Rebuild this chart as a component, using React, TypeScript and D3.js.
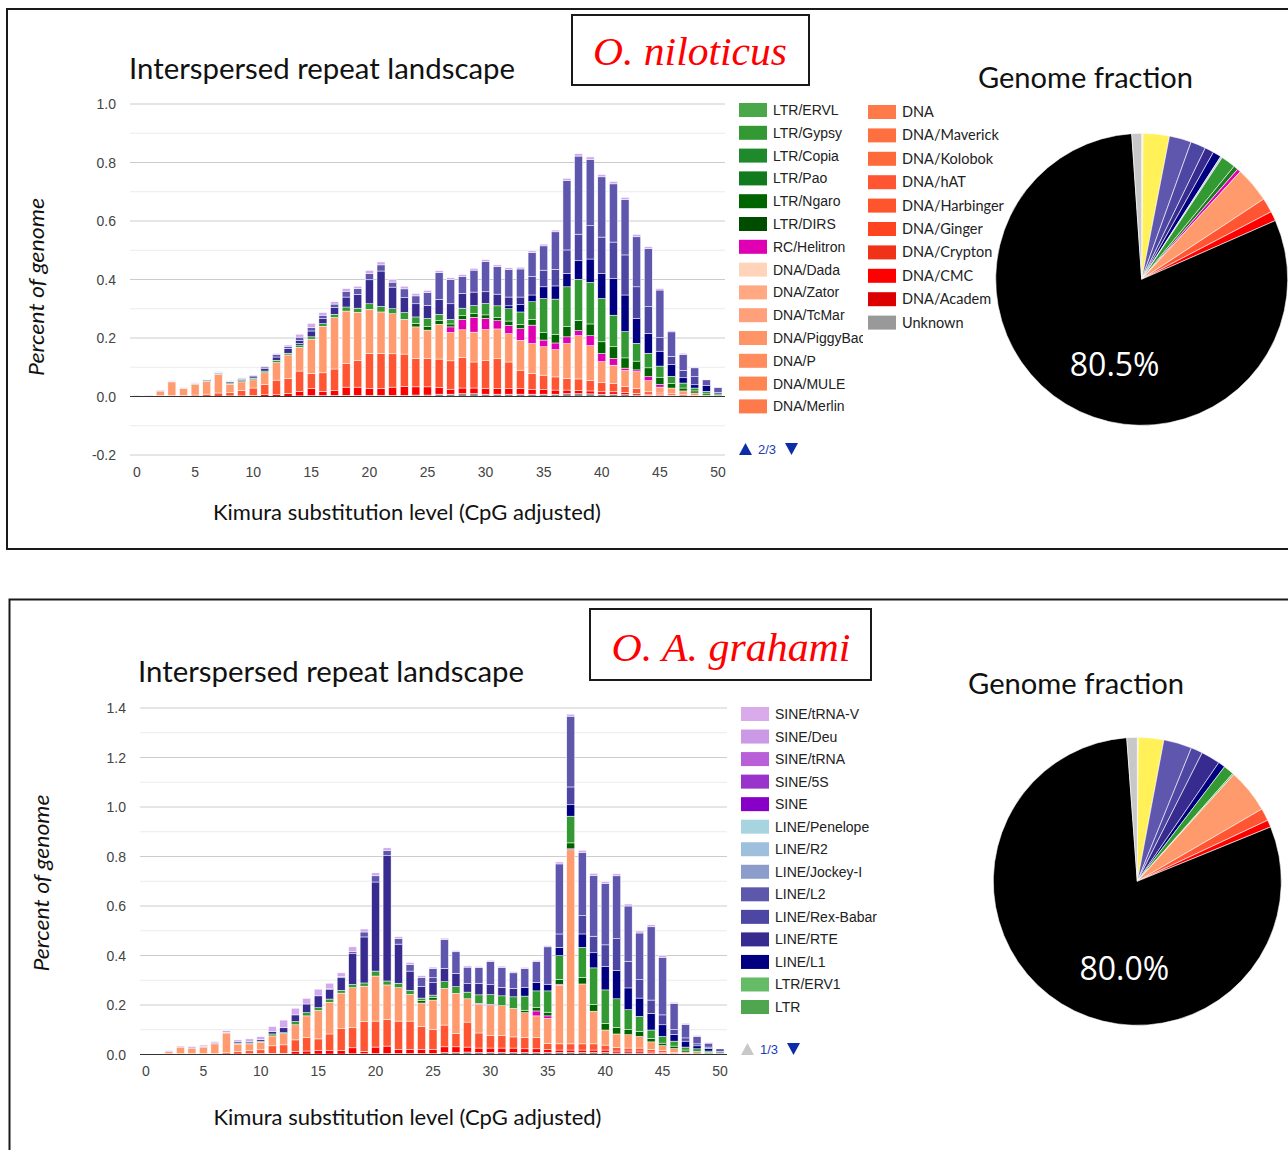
import React from 'react';
import * as d3 from 'd3';

// ---------- categories ----------
const KIMURA = [0,1,2,3,4,5,6,7,8,9,10,11,12,13,14,15,16,17,18,19,20,21,22,23,24,25,26,27,28,29,30,31,32,33,34,35,36,37,38,39,40,41,42,43,44,45,46,47,48,49,50];
const STACK_KEYS = ['Unknown','DNA/CMC','DNA/hAT','DNA/TcMar','RC/Helitron','LTR/Ngaro','LTR/Gypsy','LINE/L1','LINE/RTE','LINE/Rex-Babar','LINE/L2','SINE/tRNA'];
const X_TICKS = [0,5,10,15,20,25,30,35,40,45,50];
const NIL_Y_TICKS = [-0.2,0,0.2,0.4,0.6,0.8,1.0];
const GRA_Y_TICKS = [0,0.2,0.4,0.6,0.8,1.0,1.2,1.4];

// ---------- O. niloticus landscape (percent of genome) ----------
const NIL_UNKNOWN = [0,0,0,0,0,0,0,0,0,0,0,0,0,0,0.002,0.003,0.003,0.004,0.004,0.004,0.004,0.004,0.004,0.004,0.005,0.005,0.008,0.008,0.01,0.01,0.008,0.008,0.008,0.008,0.008,0.008,0.008,0.01,0.01,0.009,0.008,0.008,0.006,0.005,0.004,0.003,0.002,0.002,0.001,0,0];
const NIL_CMC = [0,0,0,0,0,0,0,0,0.002,0.002,0.004,0.006,0.006,0.011,0.015,0.025,0.015,0.016,0.028,0.028,0.024,0.024,0.028,0.03,0.028,0.028,0.023,0.017,0.019,0.019,0.019,0.019,0.019,0.019,0.016,0.016,0.014,0.012,0.01,0.01,0.008,0.008,0.008,0.006,0.004,0.003,0.002,0,0,0,0];
const NIL_HAT = [0,0,0.003,0.004,0.003,0.005,0.008,0.012,0.012,0.018,0.025,0.035,0.05,0.051,0.07,0.051,0.063,0.074,0.08,0.091,0.119,0.119,0.114,0.111,0.097,0.097,0.097,0.097,0.105,0.089,0.097,0.102,0.091,0.063,0.055,0.049,0.045,0.04,0.04,0.036,0.031,0.028,0.02,0.017,0.008,0.006,0.005,0.004,0.003,0,0];
const NIL_TCMAR = [0.003,0.003,0.015,0.046,0.025,0.036,0.044,0.064,0.028,0.03,0.028,0.04,0.06,0.08,0.081,0.117,0.159,0.176,0.18,0.165,0.151,0.142,0.137,0.119,0.108,0.097,0.119,0.097,0.094,0.102,0.105,0.102,0.097,0.102,0.102,0.097,0.093,0.119,0.148,0.119,0.072,0.063,0.055,0.057,0.038,0.02,0.02,0.013,0.008,0.004,0.002];
const NIL_HELITRON = [0,0,0,0,0,0,0,0,0,0,0,0,0,0,0,0,0,0,0,0,0,0,0,0,0,0,0,0.019,0.036,0.051,0.038,0.028,0.028,0.04,0.063,0.023,0.023,0.023,0.017,0.034,0.028,0.023,0.008,0.006,0.014,0.009,0,0,0,0,0];
const NIL_NGARO = [0,0,0,0,0,0,0,0,0,0,0,0,0,0,0,0,0,0,0,0,0,0,0,0,0.012,0.012,0.012,0.01,0.012,0.012,0.012,0.012,0.015,0.015,0.02,0.025,0.03,0.035,0.035,0.04,0.04,0.04,0.035,0.03,0.03,0.025,0.015,0.01,0.007,0.005,0.003];
const NIL_GYPSY = [0,0,0,0,0,0.002,0.002,0.003,0.004,0.004,0.005,0.006,0.008,0.006,0.008,0.008,0.009,0.011,0.014,0.014,0.019,0.019,0.017,0.023,0.022,0.028,0.022,0.016,0.026,0.028,0.039,0.039,0.042,0.042,0.06,0.117,0.12,0.136,0.141,0.142,0.148,0.108,0.09,0.061,0.05,0.038,0.025,0.017,0.01,0.009,0.004];
const NIL_L1 = [0,0,0,0,0,0,0,0,0,0,0,0,0,0,0.005,0,0,0,0,0,0,0,0,0,0,0,0,0,0,0,0,0,0.01,0.025,0.023,0.04,0.045,0.046,0.063,0.08,0.085,0.125,0.125,0.085,0.068,0.051,0.04,0.018,0.011,0.019,0.005];
const NIL_RTE = [0,0,0.002,0.002,0,0.002,0.003,0.002,0.004,0.005,0.005,0.008,0.011,0.017,0.01,0.02,0.017,0.023,0.034,0.047,0.082,0.121,0.074,0.051,0.045,0.045,0.051,0.053,0.051,0.046,0.04,0.04,0.03,0.026,0,0,0,0,0,0,0,0,0,0,0,0,0,0,0,0,0];
const NIL_REX = [0,0,0,0,0,0,0,0,0,0,0,0,0,0,0,0,0,0,0,0,0,0,0,0,0,0,0,0,0,0,0,0,0,0,0.063,0.057,0.057,0.08,0.091,0.114,0.125,0.125,0.137,0.108,0.091,0.046,0.028,0.025,0.028,0,0];
const NIL_L2 = [0,0,0,0,0,0,0,0.002,0.002,0.003,0.004,0.006,0.008,0.007,0.012,0.012,0.012,0.012,0.02,0.02,0.022,0.021,0.017,0.03,0.027,0.043,0.092,0.083,0.058,0.075,0.104,0.094,0.094,0.096,0.082,0.083,0.128,0.237,0.267,0.227,0.206,0.199,0.189,0.171,0.199,0.163,0.084,0.055,0.03,0.02,0.016];
const NIL_SINE = [0,0,0.002,0.002,0.002,0.002,0.002,0.002,0.002,0.002,0.002,0.003,0.004,0.004,0.01,0.014,0.009,0.008,0.009,0.008,0.01,0.01,0.009,0.009,0.008,0.008,0.006,0.006,0.006,0.006,0.006,0.006,0.006,0.006,0.006,0.006,0.006,0.008,0.008,0.008,0.008,0.008,0.008,0.008,0.006,0.005,0.004,0.004,0.003,0.002,0.002];

// ---------- O. A. grahami landscape ----------
const GRA_UNKNOWN = [0,0,0,0,0,0,0,0,0,0,0,0.002,0.002,0.002,0.002,0.002,0.002,0.002,0.003,0.003,0.004,0.004,0.004,0.004,0.004,0.004,0.008,0.008,0.01,0.008,0.008,0.008,0.008,0.008,0.008,0.008,0.008,0.008,0.008,0.008,0.008,0.006,0.006,0.006,0.004,0.004,0.004,0.002,0.002,0.001,0];
const GRA_CMC = [0,0,0,0,0,0,0,0.002,0.002,0.003,0.004,0.003,0.003,0.01,0.012,0.014,0.014,0.014,0.024,0.01,0.026,0.03,0.016,0.016,0.016,0.016,0.023,0.023,0.02,0.018,0.018,0.018,0.018,0.015,0.015,0.012,0.01,0.01,0.01,0.01,0.01,0.008,0.008,0.008,0.006,0.004,0,0,0,0,0];
const GRA_HAT = [0,0,0.003,0.003,0.004,0.005,0.005,0.005,0.01,0.012,0.015,0.03,0.034,0.047,0.054,0.047,0.067,0.088,0.081,0.121,0.105,0.108,0.115,0.115,0.094,0.081,0.088,0.054,0.101,0.061,0.05,0.05,0.045,0.045,0.045,0.025,0.025,0.025,0.025,0.025,0.02,0.015,0.012,0.012,0.01,0.008,0.005,0.002,0,0,0];
const GRA_TCMAR = [0.003,0,0.008,0.027,0.022,0.025,0.038,0.08,0.03,0.028,0.03,0.04,0.045,0.061,0.088,0.115,0.128,0.144,0.162,0.142,0.182,0.139,0.135,0.108,0.094,0.119,0.148,0.162,0.094,0.115,0.121,0.121,0.115,0.101,0.088,0.101,0.236,0.784,0.242,0.132,0.061,0.054,0.054,0.047,0.031,0.02,0.015,0.006,0.005,0.003,0.002];
const GRA_HELITRON = [0,0,0,0,0,0,0,0,0,0,0,0,0,0,0,0,0,0,0,0,0,0,0,0,0,0,0,0,0,0.005,0.005,0,0,0,0.02,0.01,0.005,0.004,0,0,0,0,0,0,0,0,0,0,0,0,0];
const GRA_NGARO = [0,0,0,0,0,0,0,0,0,0,0,0,0,0,0,0,0,0,0,0,0,0,0,0,0.01,0.01,0,0,0,0,0,0,0,0.01,0.015,0.015,0.02,0.024,0.027,0.027,0.027,0.027,0.02,0.02,0.014,0.01,0.01,0.008,0.006,0.004,0.002];
const GRA_GYPSY = [0,0,0,0,0,0.002,0.002,0.003,0.004,0.004,0.005,0.008,0.004,0.013,0.013,0.011,0.013,0.011,0.013,0.013,0.02,0.016,0.018,0.016,0.01,0.01,0.027,0.027,0.027,0.034,0.04,0.04,0.047,0.057,0.066,0.086,0.095,0.108,0.121,0.148,0.135,0.115,0.081,0.061,0.034,0.027,0.02,0.012,0.01,0.006,0.003];
const GRA_L1 = [0,0,0,0,0,0,0,0,0,0,0,0,0,0,0,0,0,0,0,0,0,0,0,0,0,0,0,0,0,0,0,0,0,0.034,0.034,0.027,0.034,0.046,0.054,0.061,0.094,0.115,0.088,0.074,0.067,0.047,0.027,0.024,0.012,0.01,0.006];
const GRA_RTE = [0,0,0,0,0,0,0.002,0,0.005,0.006,0.006,0.01,0.02,0.027,0.035,0.048,0.04,0.051,0.124,0.186,0.36,0.506,0.158,0.078,0.047,0.05,0.054,0.054,0.034,0.047,0.04,0.034,0.034,0,0,0,0,0,0,0,0,0,0,0,0,0,0,0,0,0,0];
const GRA_REX = [0,0,0,0,0,0,0,0,0,0,0,0,0,0,0,0,0,0,0,0,0,0,0,0,0,0.02,0,0,0,0,0,0,0,0,0,0,0.054,0.072,0.074,0.067,0.088,0.128,0.108,0.074,0.054,0.04,0.02,0.013,0.008,0.006,0];
const GRA_L2 = [0,0,0,0,0,0,0,0,0,0,0,0,0,0,0,0,0.004,0.004,0.008,0.02,0.025,0.022,0.022,0.027,0.037,0.037,0.117,0.087,0.067,0.063,0.093,0.081,0.063,0.077,0.084,0.151,0.283,0.286,0.256,0.246,0.247,0.254,0.223,0.189,0.296,0.233,0.105,0.055,0.03,0.016,0.01];
const GRA_SINE = [0.002,0,0.005,0.004,0.006,0.006,0.005,0.006,0.008,0.01,0.012,0.02,0.031,0.027,0.023,0.027,0.02,0.016,0.02,0.012,0.012,0.01,0.008,0.008,0.006,0.006,0.005,0.005,0.005,0.005,0.005,0.005,0.005,0.005,0.005,0.005,0.008,0.008,0.008,0.008,0.008,0.008,0.008,0.008,0.008,0.006,0.005,0.004,0.004,0.003,0.002];

// ---------- genome fraction pies (percent) ----------
const NIL_PIE_LABELS = ['Other','Simple','LINE/L2','LINE/Rex-Babar','LINE/RTE','LINE/L1','LINE/Jockey-I','LTR/Gypsy','LTR/Ngaro','RC/Helitron','DNA/TcMar','DNA/hAT','DNA/CMC','Non-repeat','Unclassified'];
const NIL_PIE_VALUES = [0.15,2.9,2.44,1.69,1.0,0.92,0.2,1.61,0.5,0.39,3.94,1.61,1.06,80.5,1.09];
const GRA_PIE_LABELS = ['Other','Simple','LINE/L2','LINE/Rex-Babar','LINE/RTE','LINE/L1','LTR/Gypsy','LTR/ERV1','DNA/TcMar','DNA/hAT','DNA/CMC','Non-repeat','Unclassified'];
const GRA_PIE_VALUES = [0.1,2.86,3.17,1.31,2.14,0.78,1.17,0.17,4.94,1.39,0.81,80.0,1.17];

// ---------- legends ----------
const NIL_LEGEND_A = ['LTR/ERVL','LTR/Gypsy','LTR/Copia','LTR/Pao','LTR/Ngaro','LTR/DIRS','RC/Helitron','DNA/Dada','DNA/Zator','DNA/TcMar','DNA/PiggyBac','DNA/P','DNA/MULE','DNA/Merlin'];
const NIL_LEGEND_B = ['DNA','DNA/Maverick','DNA/Kolobok','DNA/hAT','DNA/Harbinger','DNA/Ginger','DNA/Crypton','DNA/CMC','DNA/Academ','Unknown'];
const GRA_LEGEND = ['SINE/tRNA-V','SINE/Deu','SINE/tRNA','SINE/5S','SINE','LINE/Penelope','LINE/R2','LINE/Jockey-I','LINE/L2','LINE/Rex-Babar','LINE/RTE','LINE/L1','LTR/ERV1','LTR'];

const COLORS: Record<string, string> = {
  'Unknown': '#8f8f8f', 'DNA/CMC': '#ff0000', 'DNA/hAT': '#ff5533', 'DNA/TcMar': '#ff9b6e',
  'RC/Helitron': '#e000b4', 'LTR/Ngaro': '#006400', 'LTR/Gypsy': '#339933', 'LINE/L1': '#000080',
  'LINE/RTE': '#372b8f', 'LINE/Rex-Babar': '#4e46a3', 'LINE/L2': '#5f57ad', 'SINE/tRNA': '#d2a8ee',
  'LTR/ERVL': '#4aa84a', 'LTR/Copia': '#1f8a2c', 'LTR/Pao': '#117a1c', 'LTR/DIRS': '#004d00',
  'DNA/Dada': '#ffd4bb', 'DNA/Zator': '#ffa882', 'DNA/PiggyBac': '#ff9466', 'DNA/P': '#ff8c5c',
  'DNA/MULE': '#ff8552', 'DNA/Merlin': '#ff7a4a', 'DNA': '#ff7a48', 'DNA/Maverick': '#ff7040',
  'DNA/Kolobok': '#ff6a3a', 'DNA/Harbinger': '#ff552c', 'DNA/Ginger': '#ff4422', 'DNA/Crypton': '#f03218',
  'DNA/Academ': '#dd0000', 'SINE/tRNA-V': '#d9abea', 'SINE/Deu': '#cc99e6', 'SINE/5S': '#9933cc',
  'SINE': '#8800c8', 'LINE/Penelope': '#a8d4e0', 'LINE/R2': '#9ec0dd', 'LINE/Jockey-I': '#8c9dcc',
  'LTR/ERV1': '#66bb66', 'LTR': '#4fa64f',
};
const LEGEND_COLORS: Record<string, string> = { ...COLORS, 'Unknown': '#999999', 'LINE/L2': '#5e58ad', 'SINE/tRNA': '#b960d8', 'DNA/TcMar': '#ffa07a' };
const PIE_COLORS: Record<string, string> = {
  'Other': '#e4e4e4', 'Simple': '#fff157', 'LINE/L2': '#5f57ad', 'LINE/Rex-Babar': '#4e46a3', 'LINE/RTE': '#372b8f',
  'LINE/L1': '#000080', 'LINE/Jockey-I': '#c8c8d8', 'LTR/Gypsy': '#339933', 'LTR/Ngaro': '#1e7a1e', 'LTR/ERV1': '#66bb66',
  'RC/Helitron': '#e000b4', 'DNA/TcMar': '#ff9a6c', 'DNA/hAT': '#ff5533', 'DNA/CMC': '#ff0000',
  'Non-repeat': '#000000', 'Unclassified': '#c8c8c8',
};

const SANS = "Lato, 'Open Sans', sans-serif";
const ARIAL = "Arial, 'Liberation Sans', sans-serif";

type Landscape = Record<string, number[]>;
const NIL_DATA: Landscape = {
  'Unknown': NIL_UNKNOWN, 'DNA/CMC': NIL_CMC, 'DNA/hAT': NIL_HAT, 'DNA/TcMar': NIL_TCMAR, 'RC/Helitron': NIL_HELITRON,
  'LTR/Ngaro': NIL_NGARO, 'LTR/Gypsy': NIL_GYPSY, 'LINE/L1': NIL_L1, 'LINE/RTE': NIL_RTE, 'LINE/Rex-Babar': NIL_REX,
  'LINE/L2': NIL_L2, 'SINE/tRNA': NIL_SINE,
};
const GRA_DATA: Landscape = {
  'Unknown': GRA_UNKNOWN, 'DNA/CMC': GRA_CMC, 'DNA/hAT': GRA_HAT, 'DNA/TcMar': GRA_TCMAR, 'RC/Helitron': GRA_HELITRON,
  'LTR/Ngaro': GRA_NGARO, 'LTR/Gypsy': GRA_GYPSY, 'LINE/L1': GRA_L1, 'LINE/RTE': GRA_RTE, 'LINE/Rex-Babar': GRA_REX,
  'LINE/L2': GRA_L2, 'SINE/tRNA': GRA_SINE,
};

interface BarsProps {
  data: Landscape; x0: number; x1: number; yDomain: [number, number]; yRange: [number, number];
  gridX0: number; gridX1: number; yTicks: number[]; yLabelX: number; xLabelY: number;
}

const fmtTick = (v: number) => d3.format('.1f')(v).replace('\u2212', '-');

function Bars({ data, x0, x1, yDomain, yRange, gridX0, gridX1, yTicks, yLabelX, xLabelY }: BarsProps) {
  const x = d3.scaleLinear().domain([0, 50]).range([x0, x1]);
  const y = d3.scaleLinear().domain(yDomain).range(yRange);
  const rows = KIMURA.map((k, i) => {
    const r: Record<string, number> = { bin: k };
    STACK_KEYS.forEach((s) => { r[s] = data[s][i]; });
    return r;
  });
  const layers = d3.stack<Record<string, number>>().keys(STACK_KEYS)(rows);
  const minor: number[] = [];
  for (let v = yDomain[0]; v <= yDomain[1] + 1e-9; v += 0.1) minor.push(Math.round(v * 10) / 10);
  const bw = 8;
  return (
    <g>
      {minor.map((v) => (
        <line key={'g' + v} x1={gridX0} x2={gridX1} y1={y(v)} y2={y(v)}
          stroke={Math.abs(Math.round(v * 10)) % 2 === 0 ? '#cccccc' : '#ebebeb'} strokeWidth={1} />
      ))}
      {layers.map((layer) => (
        <g key={layer.key} fill={COLORS[layer.key]}>
          {layer.map((d, i) => {
            const h = y(d[0]) - y(d[1]);
            if (h <= 0.01) return null;
            return <rect key={i} x={x(KIMURA[i]) - bw / 2} y={y(d[1])} width={bw} height={h}
              stroke="#ffffff" strokeWidth={0.5} />;
          })}
        </g>
      ))}
      <line x1={gridX0} x2={gridX1} y1={y(0)} y2={y(0)} stroke="#333333" strokeWidth={1} />
      {yTicks.map((v) => (
        <text key={'yt' + v} x={yLabelX} y={y(v) + 5} textAnchor="end" fontFamily={ARIAL} fontSize={14} fill="#444">
          {fmtTick(v)}
        </text>
      ))}
      {X_TICKS.map((v) => (
        <text key={'xt' + v} x={x(v)} y={xLabelY} textAnchor="middle" fontFamily={ARIAL} fontSize={14} fill="#444">{v}</text>
      ))}
    </g>
  );
}

function Pie({ labels, values, cx, cy, r, pct, lx, ly }: { labels: string[]; values: number[]; cx: number; cy: number; r: number; pct: string; lx: number; ly: number }) {
  const arcs = d3.pie<number>().sort(null).value((v) => v)(values);
  const arc = d3.arc<d3.PieArcDatum<number>>().innerRadius(0).outerRadius(r);
  return (
    <g transform={`translate(${cx},${cy})`}>
      {arcs.map((a, i) => (
        <path key={i} d={arc(a) || ''} fill={PIE_COLORS[labels[i]]} stroke="#ffffff" strokeWidth={0.6} />
      ))}
      <text x={lx} y={ly} textAnchor="middle" fontFamily="'Open Sans', sans-serif" fontSize={32} fill="#ffffff">{pct}</text>
    </g>
  );
}

function Legend({ items, x, y0, step, font, size, textDx, clip }: { items: string[]; x: number; y0: number; step: number; font: string; size: number; textDx: number; clip?: boolean }) {
  return (
    <g>
      {items.map((it, i) => {
        const cy = y0 + i * step;
        return (
          <g key={it}>
            <rect x={x} y={cy - 7} width={28} height={14} fill={LEGEND_COLORS[it]} />
            <text x={x + textDx} y={cy + 5} fontFamily={font} fontSize={size} fill="#222"
              clipPath={clip ? 'url(#legclip)' : undefined}>{it}</text>
          </g>
        );
      })}
    </g>
  );
}

function Pager({ x, y, label, upActive }: { x: number; y: number; label: string; upActive: boolean }) {
  return (
    <g>
      <path d={`M${x},${y + 6} L${x + 13},${y + 6} L${x + 6.5},${y - 6} Z`} fill={upActive ? '#0b2ea8' : '#c8c8c8'} />
      <text x={x + 19} y={y + 5} fontFamily={ARIAL} fontSize={13} fill="#1c3bb8">{label}</text>
      <path d={`M${x + 46},${y - 6} L${x + 59},${y - 6} L${x + 52.5},${y + 6} Z`} fill="#0b2ea8" />
    </g>
  );
}

export default function App() {
  return (
    <svg width={1288} height={1150} style={{ position: 'absolute', left: 0, top: 0, background: '#fff' }}>
      <defs>
        <clipPath id="legclip"><rect x={730} y={90} width={133} height={340} /></clipPath>
      </defs>
      <rect x={0} y={0} width={1288} height={1150} fill="#fff" />
      {/* panel frames */}
      <rect x={7} y={9} width={1300} height={540} fill="none" stroke="#1a1a1a" strokeWidth={2} />
      <rect x={9.5} y={599.5} width={1300} height={600} fill="none" stroke="#1a1a1a" strokeWidth={2} />

      {/* ---------- top panel ---------- */}
      <rect x={572} y={15} width={237} height={70} fill="#fff" stroke="#1a1a1a" strokeWidth={2} />
      <text x={690} y={65} textAnchor="middle" fontFamily="'Liberation Serif', 'Times New Roman', serif" fontStyle="italic" fontSize={41} fill="#ff0000" textLength={194} lengthAdjust="spacingAndGlyphs">O. niloticus</text>
      <text x={129} y={79} fontFamily={SANS} fontSize={28} fill="#111" textLength={386} lengthAdjust="spacingAndGlyphs">Interspersed repeat landscape</text>
      <text x={978} y={88} fontFamily={SANS} fontSize={28} fill="#111" textLength={215} lengthAdjust="spacingAndGlyphs">Genome fraction</text>
      <text transform="translate(44,287) rotate(-90)" textAnchor="middle" fontFamily={SANS} fontStyle="italic" fontSize={21} fill="#111" textLength={178} lengthAdjust="spacingAndGlyphs">Percent of genome</text>
      <text x={407} y={520} textAnchor="middle" fontFamily={SANS} fontSize={21} fill="#111" textLength={388} lengthAdjust="spacingAndGlyphs">Kimura substitution level (CpG adjusted)</text>
      <Bars data={NIL_DATA} x0={137} x1={718} yDomain={[-0.2, 1.0]} yRange={[455, 104]} gridX0={130} gridX1={725}
        yTicks={NIL_Y_TICKS} yLabelX={116} xLabelY={477} />
      <Legend items={NIL_LEGEND_A} x={739} y0={110} step={22.8} font={ARIAL} size={14} textDx={34} clip={true} />
      <Legend items={NIL_LEGEND_B} x={868} y0={112} step={23.4} font={SANS} size={14.5} textDx={34} />
      <Pager x={739} y={449} label="2/3" upActive={true} />
      <Pie labels={NIL_PIE_LABELS} values={NIL_PIE_VALUES} cx={1141.7} cy={279.3} r={146} pct="80.5%" lx={-27} ly={97} />

      {/* ---------- bottom panel ---------- */}
      <rect x={590} y={609} width={281} height={71} fill="#fff" stroke="#1a1a1a" strokeWidth={2} />
      <text x={731} y={661} textAnchor="middle" fontFamily="'Liberation Serif', 'Times New Roman', serif" fontStyle="italic" fontSize={41} fill="#ff0000" textLength={239} lengthAdjust="spacingAndGlyphs">O. A. grahami</text>
      <text x={138} y={682} fontFamily={SANS} fontSize={28} fill="#111" textLength={386} lengthAdjust="spacingAndGlyphs">Interspersed repeat landscape</text>
      <text x={968} y={694} fontFamily={SANS} fontSize={28} fill="#111" textLength={216} lengthAdjust="spacingAndGlyphs">Genome fraction</text>
      <text transform="translate(49,883) rotate(-90)" textAnchor="middle" fontFamily={SANS} fontStyle="italic" fontSize={21} fill="#111" textLength={177} lengthAdjust="spacingAndGlyphs">Percent of genome</text>
      <text x={407.5} y={1125} textAnchor="middle" fontFamily={SANS} fontSize={21} fill="#111" textLength={388} lengthAdjust="spacingAndGlyphs">Kimura substitution level (CpG adjusted)</text>
      <Bars data={GRA_DATA} x0={146} x1={720} yDomain={[0, 1.4]} yRange={[1054.5, 708]} gridX0={140} gridX1={727}
        yTicks={GRA_Y_TICKS} yLabelX={126} xLabelY={1076} />
      <Legend items={GRA_LEGEND} x={741} y0={714} step={22.54} font={ARIAL} size={14} textDx={34} />
      <Pager x={741} y={1049} label="1/3" upActive={false} />
      <Pie labels={GRA_PIE_LABELS} values={GRA_PIE_VALUES} cx={1137.3} cy={881.3} r={144} pct="80.0%" lx={-13} ly={99} />
    </svg>
  );
}
